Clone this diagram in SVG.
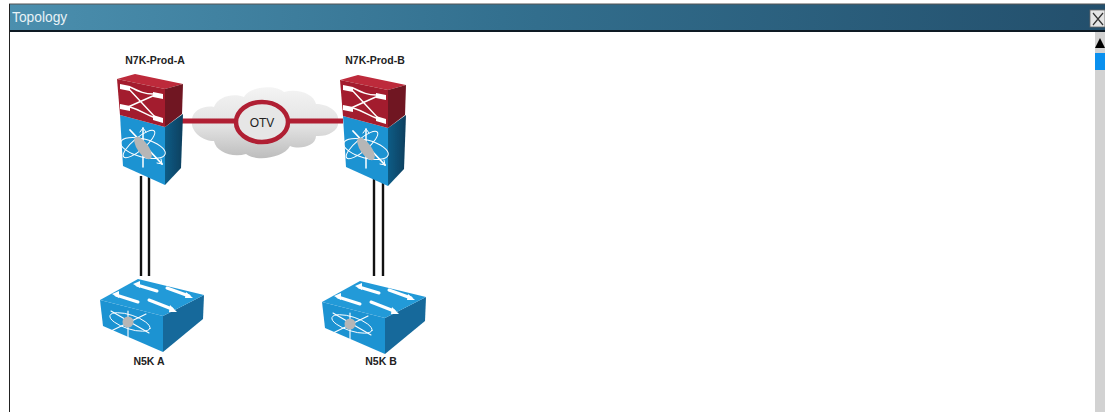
<svg xmlns="http://www.w3.org/2000/svg" width="1105" height="412" viewBox="0 0 1105 412">
<style>
.lbl{font-family:"Liberation Sans",Arial,sans-serif;font-size:10.500px;font-weight:bold;fill:#222;text-anchor:middle}
.wh{fill:none;stroke:#fff;stroke-linecap:round}
.link{stroke:#111;stroke-width:2.4;fill:none}
.red{stroke:#b01f33;fill:none}
</style>
<defs>
<linearGradient id="bar" x1="0" x2="1" y1="0" y2="0"><stop offset="0" stop-color="#4b8fae"/><stop offset=".45" stop-color="#33708f"/><stop offset="1" stop-color="#234f6c"/></linearGradient>
<linearGradient id="cl" x1="0" x2="0" y1="0" y2="1"><stop offset="0" stop-color="#f4f4f4"/><stop offset=".55" stop-color="#e2e2e2"/><stop offset="1" stop-color="#bdbdbd"/></linearGradient>
<linearGradient id="side" x1="0" x2="1" y1="0" y2="0"><stop offset="0" stop-color="#0d5c86"/><stop offset="1" stop-color="#0a3f5e"/></linearGradient>
<filter id="soft" x="-5%" y="-5%" width="110%" height="110%"><feGaussianBlur stdDeviation="0.600"/></filter>
<g id="n7k" filter="url(#soft)">
<polygon points="120,115 165,127 165,185 123,166" fill="#1f93d2"/>
<polygon points="165,127 183,114 181,168 165,185" fill="url(#side)"/>
<polygon points="117,79 135,74 183,84 165,89" fill="#bd2a3a"/>
<polygon points="117,79 165,89 165,127 120,115" fill="#a31e2d"/>
<polygon points="165,89 183,84 182,114 165,127" fill="#6f1420"/>
<g class="wh" stroke-width="1.400">
<path d="M130,87 C140,92 145,94 153,94"/>
<path d="M130,107 C140,110 145,114 153,117"/>
<path d="M128,88 L155,117"/>
<path d="M128,107 L155,95"/>
</g>
<g fill="#fff">
<polygon points="120,84 130,86 130,91 120,89"/>
<polygon points="153,92 163,94 163,99 153,97"/>
<polygon points="120,104 130,106 130,111 120,109"/>
<polygon points="153,115 163,118 163,123 153,120"/>
</g>
<g class="wh" stroke-width="1">
<ellipse cx="143" cy="148" rx="23" ry="9" transform="rotate(15 143 148)"/>
<ellipse cx="139" cy="144" rx="6" ry="20" transform="rotate(50 139 144)"/>
<path d="M130,130 L162,164" stroke-width="1.800"/>
<path d="M143,128 L143,167" stroke-width="1.500"/>
<path d="M143,128 l-3,4 M143,128 l3,4 M162,164 l-5,-1 M162,164 l-1,-5"/>
</g>
<ellipse cx="143" cy="148" rx="5.500" ry="13" fill="#b6b6b6" transform="rotate(-35 143 148)"/>
</g>
<g id="n5k" filter="url(#soft)">
<polygon points="100,300 163,316 163,352 103,326" fill="#1f93d2"/>
<polygon points="163,316 204,295 203,319 163,352" fill="#14699b"/>
<polygon points="100,300 138,279 204,295 163,316" fill="#249ad8"/>
<g class="wh" stroke-width="3">
<path d="M137,285 L157,291"/>
<path d="M167,288 L189,296"/>
<path d="M116,295 L138,302"/>
<path d="M149,300 L172,309"/>
</g>
<g fill="#fff">
<polygon points="133,284 140,281 140,288"/>
<polygon points="193,298 186,292 185,298"/>
<polygon points="112,294 119,291 119,298"/>
<polygon points="177,312 170,305 169,312"/>
</g>
<g class="wh" stroke-width="0.900">
<ellipse cx="130" cy="322" rx="21" ry="7" transform="rotate(18 130 322)"/>
<path d="M111,311 L149,333 M111,331 L146,314 M128,311 L128,337" stroke-width="1.100"/>
</g>
<circle cx="128" cy="322" r="5.500" fill="#b6b6b6"/>
</g>
</defs>

<rect width="1105" height="412" fill="#fff"/>
<g id="window">
<rect x="9" y="4" width="1096" height="26" fill="url(#bar)"/>
<rect x="9" y="3.500" width="1096" height="1" fill="#555"/>
<rect x="9" y="30" width="1096" height="2" fill="#0e1a24"/>
<rect x="9" y="4" width="1" height="408" fill="#222"/>
<text x="12" y="22" font-family="'Liberation Sans',Arial,sans-serif" font-size="13.800" fill="#e8f2f6">Topology</text>
<rect x="1090" y="10" width="15" height="17" fill="#e4e4e4" stroke="#666" stroke-width="0.800"/>
<path d="M1093,13 L1103,25 M1103,13 L1093,25" stroke="#333" stroke-width="1.200"/>
<rect x="1095" y="32" width="10" height="380" fill="#d2d2d2"/>
<polygon points="1100,38 1095,48 1105,48" fill="#000"/>
<rect x="1095" y="53" width="10" height="17" fill="#0a90ee"/>
</g>
<g id="node-cloud" filter="url(#soft)">
<path d="M192,120 C192,110 205,105 214,107 C218,96 234,93 244,97 C250,86 276,84 284,92 C298,88 314,94 316,104 C328,104 340,112 338,121 C340,130 328,137 316,136 C316,146 300,150 290,146 C284,158 256,162 246,154 C232,158 216,152 214,141 C202,141 190,131 192,120 Z" fill="url(#cl)"/>
</g>
<g id="connectors">
<line class="link" x1="141" y1="176" x2="141" y2="276"/>
<line class="link" x1="149" y1="176" x2="149" y2="276"/>
<line class="link" x1="374" y1="178" x2="374" y2="276"/>
<line class="link" x1="383" y1="178" x2="383" y2="276"/>
<line class="red" x1="181" y1="121" x2="236" y2="121" stroke-width="5"/>
<line class="red" x1="288" y1="121" x2="343" y2="121" stroke-width="5"/>
</g>
<g id="node-otv">
<ellipse class="red" cx="262" cy="122" rx="26" ry="20" style="fill:#e6e6e6" stroke-width="4.500"/>
<text x="262" y="127" font-family="'Liberation Sans',Arial,sans-serif" font-size="12" fill="#222" text-anchor="middle">OTV</text>
</g>
<g id="node-n7k-a"><use href="#n7k"/><text class="lbl" x="155" y="64">N7K-Prod-A</text></g>
<g id="node-n7k-b"><use href="#n7k" x="223" y="1"/><text class="lbl" x="375" y="64">N7K-Prod-B</text></g>
<g id="node-n5k-a"><use href="#n5k"/><text class="lbl" x="149" y="365">N5K A</text></g>
<g id="node-n5k-b"><use href="#n5k" x="222" y="2"/><text class="lbl" x="381" y="365">N5K B</text></g>
</svg>
